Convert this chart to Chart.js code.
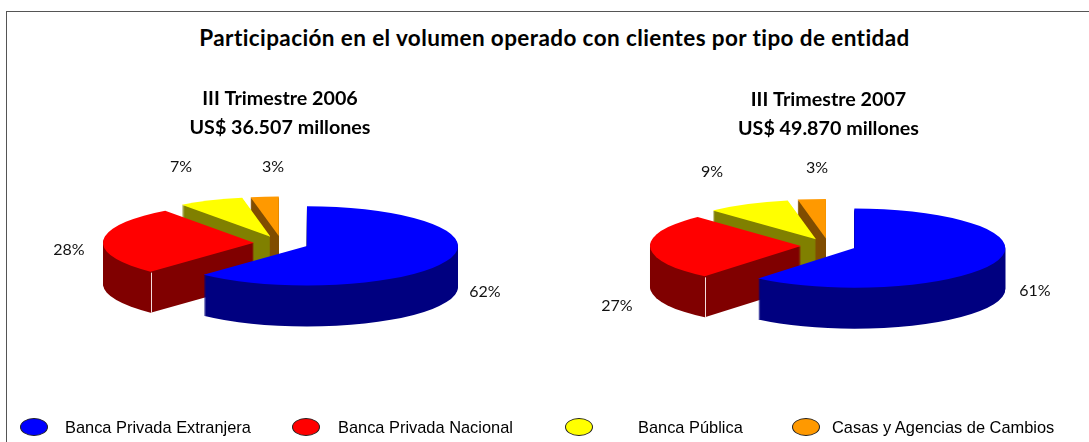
<!DOCTYPE html>
<html lang="es"><head><meta charset="utf-8">
<script src="https://cdn.jsdelivr.net/npm/chart.js@4"></script>
<style>
html,body{margin:0;padding:0;background:#fff;overflow:hidden;width:1089px;height:442px}
.abs{position:absolute}
#frameT{left:6px;top:11px;width:1083px;height:1px;background:#555}
#frameL{left:6px;top:11px;width:1px;height:431px;background:#555}
#mainTitle{left:0;width:1109px;top:24px;text-align:center;font:bold 22.5px Lato,sans-serif;letter-spacing:.4px;color:#000;line-height:28px;white-space:nowrap}
.lg{position:absolute;top:417px;font:16.4px "Liberation Sans",Arial,sans-serif;color:#000;line-height:20px;white-space:nowrap}
.dot{position:absolute;top:418px;width:26px;height:16px;border:1px solid #222;border-radius:50%}
canvas{position:absolute;top:0}
</style></head><body>
<div class="abs" id="frameT"></div><div class="abs" id="frameL"></div>
<div class="abs" id="mainTitle">Participación en el volumen operado con clientes por tipo de entidad</div>
<div style="position:absolute;left:0;top:0;width:560px;height:442px"><canvas id="c1"></canvas></div>
<div style="position:absolute;left:568px;top:0;width:521px;height:442px"><canvas id="c2"></canvas></div>
<div id="legend"></div>
<script>
const categories = ['Banca Privada Extranjera','Banca Privada Nacional','Banca Pública','Casas y Agencias de Cambios'];
const topColors = ['#0000ff','#ff0000','#ffff00','#ff9900'];
const sideColors = ['#000080','#800000','#808000','#804d00'];
const values2006 = [62,28,7,3];
const values2007 = [61,27,9,3];
const title2006 = ['III Trimestre 2006','US$ 36.507 millones'];
const title2007 = ['III Trimestre 2007','US$ 49.870 millones'];
const labelX2006 = [485,69,181,273];
const labelY2006 = [292,250,167,167];
const labelX2007 = [467,49,144,249];
const labelY2007 = [291,306,172,168];
const legendDotX = [20,292,565,792];
const legendTextX = [65,338,638,832];

const legend = document.getElementById('legend');
categories.forEach((c,i)=>{
  const d=document.createElement('div');d.className='dot';d.style.left=legendDotX[i]+'px';d.style.background=topColors[i];legend.appendChild(d);
  const t=document.createElement('div');t.className='lg';t.style.left=legendTextX[i]+'px';t.textContent=c;legend.appendChild(t);
});

const SQUASH = 0.262;
const pie3d = {
  id:'pie3d',
  beforeDatasetDraw(chart,args){
    const ctx=chart.ctx, meta=args.meta, o=chart.options.plugins.pie3d;
    const arcs=meta.data;
    for(let i=arcs.length-1;i>=0;i--){
      const arc=arcs[i];
      const off=arc.options.offset/4, R=arc.outerRadius+off;
      const mid=(arc.startAngle+arc.endAngle)/2;
      const ax=arc.x+o.dx+Math.cos(mid)*off, ay=arc.y+Math.sin(mid)*off*SQUASH;
      const paint=(dy,color)=>{
        ctx.save();
        ctx.translate(ax,ay+dy);ctx.scale(1,SQUASH);
        ctx.beginPath();ctx.moveTo(0,0);ctx.arc(0,0,R,arc.startAngle,arc.endAngle);ctx.closePath();
        ctx.fillStyle=color;ctx.fill();
        ctx.restore();
      };
      for(let d=o.depth;d>=1;d--) paint(d,sideColors[i]);
      paint(0,topColors[i]);
      if(i===1){
        const px=ax+Math.cos(arc.startAngle)*R, py=ay+Math.sin(arc.startAngle)*R*SQUASH;
        ctx.save();ctx.strokeStyle='#f4dcdc';ctx.lineWidth=1;ctx.beginPath();
        ctx.moveTo(Math.round(px)+.5,py+1);ctx.lineTo(Math.round(px)+.5,py+o.depth);ctx.stroke();ctx.restore();
      }
    }
    return false;
  },
  afterDraw(chart){
    const ctx=chart.ctx,o=chart.options.plugins.pie3d,v=chart.data.datasets[0].data;
    ctx.save();ctx.font='16px Lato, sans-serif';ctx.fillStyle='#111';ctx.textAlign='center';ctx.textBaseline='middle';
    v.forEach((val,i)=>ctx.fillText(val+'%',o.labelX[i],o.labelY[i]));
    ctx.restore();
  }
};
function makeChart(id,values,titleLines,lx,ly,depth,tTop,pad,dx){
  return new Chart(document.getElementById(id),{
    type:'pie',
    data:{labels:categories,datasets:[{data:values,backgroundColor:topColors,borderWidth:0,offset:110,radius:123.5,clip:false}]},
    options:{
      responsive:true,maintainAspectRatio:false,animation:false,events:[],
      layout:{padding:pad},
      rotation:0,
      plugins:{
        legend:{display:false},tooltip:{enabled:false},
        title:{display:true,text:titleLines,color:'#000',font:{family:'Lato, sans-serif',size:19.7,weight:'bold',lineHeight:1.47},padding:{top:tTop,bottom:10}},
        pie3d:{depth,labelX:lx,labelY:ly,dx}
      }
    },
    plugins:[pie3d]
  });
}
makeChart('c1',values2006,title2006,labelX2006,labelY2006,41,84,{bottom:107.4},1.4);
makeChart('c2',values2007,title2007,labelX2007,labelY2007,41,85,{bottom:103.6},0);
</script>
</body></html>
